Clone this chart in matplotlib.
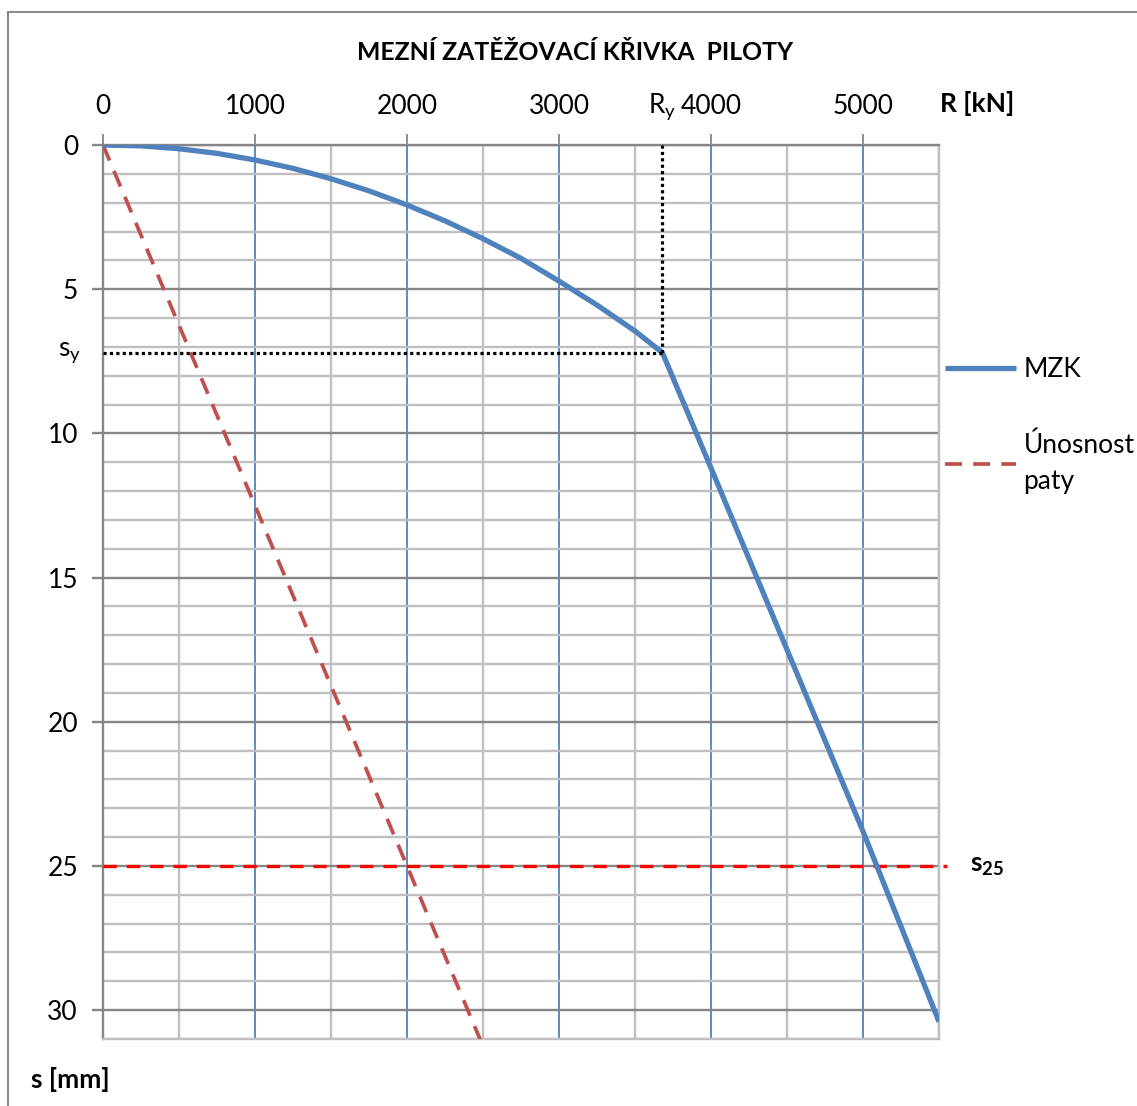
import matplotlib
matplotlib.use("Agg")
import matplotlib.pyplot as plt
from matplotlib.ticker import MultipleLocator, FixedLocator
from matplotlib.patches import Rectangle

FONT = "Lato"
plt.rcParams['font.family'] = [FONT, 'DejaVu Sans']
plt.rcParams['mathtext.fontset'] = 'custom'
plt.rcParams['mathtext.rm'] = FONT
plt.rcParams['mathtext.it'] = FONT
plt.rcParams['mathtext.bf'] = FONT + ':bold'

# ---- data ----
title = "MEZNÍ ZATĚŽOVACÍ KŘIVKA  PILOTY"
x_label = "R [kN]"
y_label = "s [mm]"
x_ticks = [0, 1000, 2000, 3000, 4000, 5000]
y_ticks = [0, 5, 10, 15, 20, 25, 30]

mzk_R = [0, 250, 500, 750, 1000, 1250, 1500, 1750, 2000, 2250, 2500, 2750,
         3000, 3250, 3500, 3680, 4000, 4500, 5000, 5500]
mzk_s = [0, 0.03, 0.13, 0.29, 0.52, 0.81, 1.17, 1.59, 2.08, 2.63, 3.25, 3.93,
         4.72, 5.55, 6.45, 7.2, 11.2, 17.5, 23.8, 30.4]

paty_R = [0, 1000, 2000, 2500]
paty_s = [0, 12.5, 25.0, 31.25]

R_y = 3680
s_y = 7.2
s_25 = 25

# ---- figure ----
W, H = 1137, 1106
fig = plt.figure(figsize=(W / 100, H / 100), dpi=100)
L, R_, T, B = 103, 939, 145, 1039
ax = fig.add_axes([L / W, 1 - B / H, (R_ - L) / W, (B - T) / H])

fig.patches.append(Rectangle((8 / W, -0.1), 1.2, 1 - 12 / H + 0.1,
                             transform=fig.transFigure, fill=False,
                             edgecolor='#8C8C8C', linewidth=1.5))

light = '#BFBFBF'
dark = '#868686'
blue = '#4F81BD'
FS = 19

ax.set_xlim(0, 5500)
ax.set_ylim(31, 0)
ax.set_axisbelow(True)

ax.xaxis.set_major_locator(FixedLocator(x_ticks))
ax.xaxis.set_minor_locator(MultipleLocator(500))
ax.yaxis.set_major_locator(FixedLocator(y_ticks))
ax.yaxis.set_minor_locator(MultipleLocator(1))
ax.xaxis.tick_top()

ax.grid(which='major', axis='x', color=blue, linewidth=1.3)
ax.grid(which='minor', axis='x', color=light, linewidth=1.7)
ax.grid(which='major', axis='y', color=dark, linewidth=1.7)
ax.grid(which='minor', axis='y', color=light, linewidth=1.7)

ax.tick_params(axis='x', which='major', direction='out', length=8, width=1.3,
               color=dark, labelsize=FS, pad=11)
ax.tick_params(axis='y', which='major', direction='out', length=8, width=1.7,
               color=dark, labelsize=FS, pad=10)
ax.tick_params(which='minor', length=0)

for side in ['top', 'left']:
    ax.spines[side].set_color(dark)
    ax.spines[side].set_linewidth(1.7)
for side in ['bottom', 'right']:
    ax.spines[side].set_color(light)
    ax.spines[side].set_linewidth(1.7)

# lines
ax.plot(mzk_R, mzk_s, color=blue, linewidth=3.8, label='MZK', zorder=5,
        solid_capstyle='butt')
ax.plot(paty_R, paty_s, color='#C0504D', linewidth=2.7, linestyle=(0, (4.5, 3)),
        label='Únosnost\npaty', zorder=4)
ax.plot([0, R_y], [s_y, s_y], color='black', linewidth=2.3, linestyle=(0, (1, 1)),
        zorder=6)
ax.plot([R_y, R_y], [0, s_y], color='black', linewidth=2.3, linestyle=(0, (1, 1)),
        zorder=6)
ax.plot([0, 5550], [s_25, s_25], color='#FF0000', linewidth=2.4,
        linestyle=(0, (4, 3)), zorder=3, clip_on=False)

# texts
fig.text(575 / W, 1 - 52 / H, title, fontsize=17.8, fontweight='bold',
         ha='center', va='center')
fig.text(977 / W, 1 - 104 / H, x_label, fontsize=FS, fontweight='bold',
         ha='center', va='center')
fig.text(70 / W, 1 - 1080 / H, y_label, fontsize=FS, fontweight='bold',
         ha='center', va='center')

ax.annotate(r'R$_\mathrm{y}$', xy=(R_y, 0), xycoords='data',
            xytext=(0, 38), textcoords='offset pixels', ha='center', va='center',
            fontsize=FS, annotation_clip=False)
ax.annotate(r's$_\mathrm{y}$', xy=(0, s_y), xycoords='data',
            xytext=(-22, 0), textcoords='offset pixels', ha='right', va='center',
            fontsize=FS, annotation_clip=False)
ax.annotate(r'$\mathbf{s_{25}}$', xy=(5500, s_25), xycoords='data',
            xytext=(31, 0), textcoords='offset pixels', ha='left', va='center',
            fontsize=FS, annotation_clip=False)

leg = ax.legend(loc='upper left', bbox_to_anchor=(945 / W, 1 - 357 / H),
                bbox_transform=fig.transFigure, frameon=False, fontsize=FS,
                handlelength=2.7, handletextpad=0.27, labelspacing=1.9,
                borderaxespad=0, borderpad=0)
for t in leg.get_texts():
    t.set_linespacing(1.55)

fig.savefig('out.png', dpi=100)
